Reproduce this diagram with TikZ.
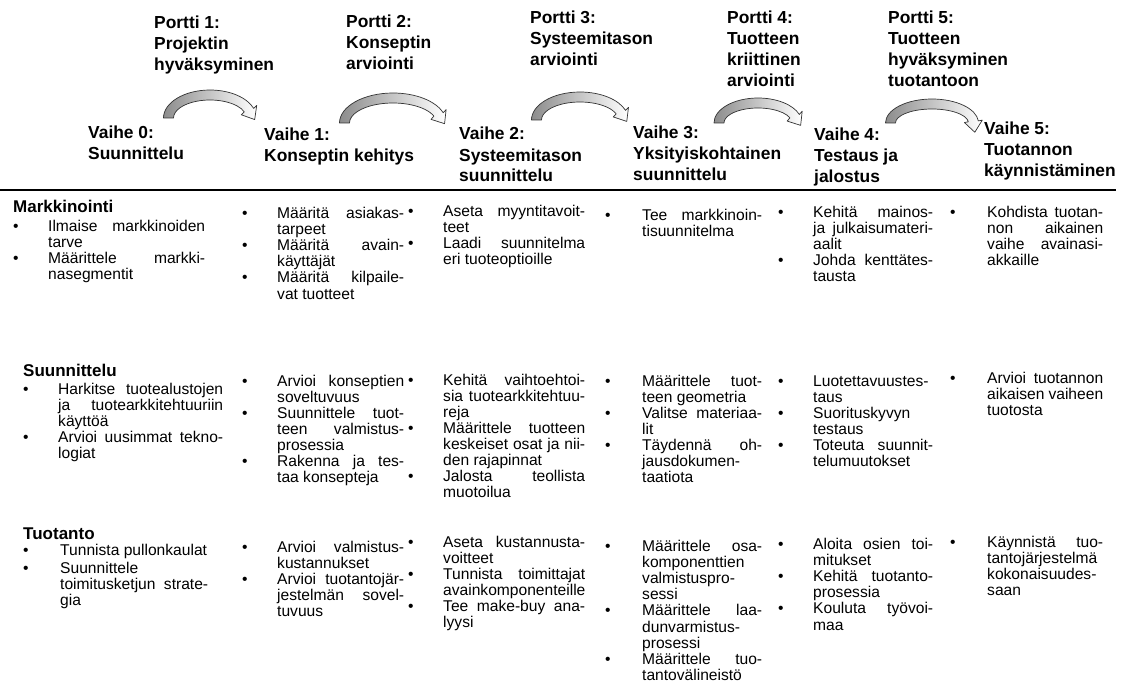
\documentclass[tikz,border=0pt]{standalone}
\usepackage{fontspec}
\setmainfont{Liberation Sans}
\usepackage{array}
\usetikzlibrary{calc}

% one justified line of a bullet text
\newcommand{\J}[1]{\makebox[\hsize][s]{#1}}
% gap between two bullet items
\newcommand{\nextitem}{\\[2.6pt]}

\tikzset{
  hdr/.style={anchor=base west, inner sep=0pt, font=\fontsize{17.4}{21}\selectfont\bfseries},
  rowhead/.style={anchor=base west, inner sep=0pt, font=\fontsize{17}{20}\selectfont\bfseries},
  cellnode/.style={anchor=base west, inner sep=0pt, font=\fontsize{15.6}{16.1}\selectfont},
  gateband/.style={draw=black!80, line width=0.7pt, line join=round,
    left color=black!45, right color=white},
  rule/.style={line width=2.4pt},
}

% multi-line bold label: name, x, baseline y, lines
\newcommand{\hdrat}[4]{\node[hdr] (#1) at (#2,#3) {\begin{tabular}[t]{@{}l@{}}#4\end{tabular}};}
% bullet list cell: name, x, first baseline, bullet width, text width, items
\newcommand{\cellat}[6]{\node[cellnode] (#1) at (#2,#3)
  {\hyphenpenalty=10000\relax\exhyphenpenalty=10000\relax
   \begin{tabular}[t]{@{}p{#4pt}@{}p{#5pt}@{}}#6\end{tabular}};}

% curved gate arrow: name, centre x, centre y, x radius, y radius (centre line), end angle
\newcommand{\gatearrow}[6]{%
  \pgfmathsetmacro{\gxo}{#4+5}\pgfmathsetmacro{\gyo}{#5+5}%
  \pgfmathsetmacro{\gxi}{#4-5}\pgfmathsetmacro{\gyi}{#5-5}%
  \pgfmathsetmacro{\gang}{#6+3}%
  \coordinate (#1c) at (#2,#3);
  \coordinate (#1e) at ($(#1c)+({#4*cos(#6)},{#5*sin(#6)})$);
  \coordinate (#1f) at ($(#1c)+({#4*cos(\gang)},{#5*sin(\gang)})$);
  \coordinate (#1t) at ($(#1e)!11pt!(#1f)$);
  \coordinate (#1o) at ($(#1e)!9pt!90:(#1t)$);
  \coordinate (#1i) at ($(#1e)!9pt!-90:(#1t)$);
  \coordinate (#1s) at ($(#1c)+(-\gxo,0)$);
  \coordinate (#1j) at ($(#1c)+({\gxi*cos(#6)},{\gyi*sin(#6)})$);
  \path[gateband] (#1s)
     arc[start angle=180, end angle=#6, x radius=\gxo, y radius=\gyo]
     -- (#1o) -- (#1t) -- (#1i) -- (#1j)
     arc[start angle=#6, end angle=180, x radius=\gxi, y radius=\gyi]
     -- cycle;
}

\begin{document}
\begin{tikzpicture}[x=1pt,y=-1pt]
\path[fill=white] (0,0) rectangle (1125,698);
\useasboundingbox (0,0) rectangle (1125,698);

% gates
\hdrat{p1}{154}{29}{Portti 1:\\Projektin\\hyväksyminen}
\hdrat{p2}{346}{28}{Portti 2:\\Konseptin\\arviointi}
\hdrat{p3}{530}{24}{Portti 3:\\Systeemitason\\arviointi}
\hdrat{p4}{727}{24}{Portti 4:\\Tuotteen\\kriittinen\\arviointi}
\hdrat{p5}{888}{24}{Portti 5:\\Tuotteen\\hyväksyminen\\tuotantoon}

% phases
\hdrat{v0}{88}{139}{Vaihe 0:\\Suunnittelu}
\hdrat{v1}{264}{141}{Vaihe 1:\\Konseptin kehitys}
\hdrat{v2}{459}{140}{Vaihe 2:\\Systeemitason\\suunnittelu}
\hdrat{v3}{633}{139}{Vaihe 3:\\Yksityiskohtainen\\suunnittelu}
\hdrat{v4}{814}{141}{Vaihe 4:\\Testaus ja\\jalostus}
\hdrat{v5}{984}{135}{Vaihe 5:\\Tuotannon\\käynnistäminen}

% gate arrows
\gatearrow{g1}{210}{118}{41.5}{23}{340}
\gatearrow{g2}{393}{123}{48.5}{25}{340}
\gatearrow{g3}{580}{120}{43.5}{23}{340}
\gatearrow{g4}{758}{123}{39}{20}{340}
\gatearrow{g5}{932}{123}{41.5}{19}{355}

% separator
\coordinate (sepL) at (0,190);
\coordinate (sepR) at (1116,190);
\draw[rule] (sepL) -- (sepR);

% row headings
\node[rowhead] (hMark) at (13,212) {Markkinointi};
\node[rowhead] (hSuun) at (23,376) {Suunnittelu};
\node[rowhead] (hTuot) at (23,539) {Tuotanto};

% marketing
\cellat{m0}{13}{231.5}{35}{157}{%
\textbullet & \J{Ilmaise markkinoiden}\newline tarve\nextitem
\textbullet & \J{Määrittele markki-}\newline nasegmentit}
\cellat{m1}{242}{218.5}{35}{127}{%
\textbullet & \J{Määritä asiakas-}\newline tarpeet\nextitem
\textbullet & \J{Määritä avain-}\newline käyttäjät\nextitem
\textbullet & \J{Määritä kilpaile-}\newline vat tuotteet}
\cellat{m2}{408}{216.5}{35}{142}{%
\textbullet & \J{Aseta myyntitavoit-}\newline teet\nextitem
\textbullet & \J{Laadi suunnitelma}\newline eri tuoteoptioille}
\cellat{m3}{605}{220}{37}{120}{%
\textbullet & \J{Tee markkinoin-}\newline tisuunnitelma}
\cellat{m4}{778}{217.5}{35}{120}{%
\textbullet & \J{Kehitä mainos-}\newline \J{ja julkaisumateri-}\newline aalit\nextitem
\textbullet & \J{Johda kenttätes-}\newline tausta}
\cellat{m5}{950}{217.5}{37}{116}{%
\textbullet & \J{Kohdista tuotan-}\newline \J{non aikainen}\newline \J{vaihe avainasi-}\newline akkaille}

% design
\cellat{s0}{23}{394}{35}{165}{%
\textbullet & \J{Harkitse tuotealustojen}\newline \J{ja tuotearkkitehtuuriin}\newline käyttöä\nextitem
\textbullet & \J{Arvioi uusimmat tekno-}\newline logiat}
\cellat{s1}{242}{386}{35}{127}{%
\textbullet & \J{Arvioi konseptien}\newline soveltuvuus\nextitem
\textbullet & \J{Suunnittele tuot-}\newline \J{teen valmistus-}\newline prosessia\nextitem
\textbullet & \J{Rakenna ja tes-}\newline taa konsepteja}
\cellat{s2}{408}{385}{35}{142}{%
\textbullet & \J{Kehitä vaihtoehtoi-}\newline \J{sia tuotearkkitehtuu-}\newline reja\nextitem
\textbullet & \J{Määrittele tuotteen}\newline \J{keskeiset osat ja nii-}\newline den rajapinnat\nextitem
\textbullet & \J{Jalosta teollista}\newline muotoilua}
\cellat{s3}{605}{386}{37}{120}{%
\textbullet & \J{Määrittele tuot-}\newline teen geometria\nextitem
\textbullet & \J{Valitse materiaa-}\newline lit\nextitem
\textbullet & \J{Täydennä oh-}\newline jausdokumen-\newline taatiota}
\cellat{s4}{778}{386}{35}{120}{%
\textbullet & Luotettavuustes-\newline taus\nextitem
\textbullet & Suorituskyvyn\newline testaus\nextitem
\textbullet & \J{Toteuta suunnit-}\newline telumuutokset}
\cellat{s5}{950}{383}{37}{116}{%
\textbullet & \J{Arvioi tuotannon}\newline \J{aikaisen vaiheen}\newline tuotosta}

% production
\cellat{t0}{23}{555}{37}{148}{%
\textbullet & Tunnista pullonkaulat\nextitem
\textbullet & Suunnittele\newline \J{toimitusketjun strate-}\newline gia}
\cellat{t1}{242}{552}{35}{127}{%
\textbullet & \J{Arvioi valmistus-}\newline kustannukset\nextitem
\textbullet & \J{Arvioi tuotantojär-}\newline \J{jestelmän sovel-}\newline tuvuus}
\cellat{t2}{408}{547}{35}{142}{%
\textbullet & \J{Aseta kustannusta-}\newline voitteet\nextitem
\textbullet & \J{Tunnista toimittajat}\newline avainkomponenteille\nextitem
\textbullet & \J{Tee make-buy ana-}\newline lyysi}
\cellat{t3}{605}{551.5}{37}{120}{%
\textbullet & \J{Määrittele osa-}\newline komponenttien\newline valmistuspro-\newline sessi\nextitem
\textbullet & \J{Määrittele laa-}\newline dunvarmistus-\newline prosessi\nextitem
\textbullet & \J{Määrittele tuo-}\newline tantovälineistö}
\cellat{t4}{778}{549.5}{35}{120}{%
\textbullet & \J{Aloita osien toi-}\newline mitukset\nextitem
\textbullet & \J{Kehitä tuotanto-}\newline prosessia\nextitem
\textbullet & \J{Kouluta työvoi-}\newline maa}
\cellat{t5}{950}{547}{37}{116}{%
\textbullet & \J{Käynnistä tuo-}\newline tantojärjestelmä\newline kokonaisuudes-\newline saan}
\end{tikzpicture}
\end{document}
